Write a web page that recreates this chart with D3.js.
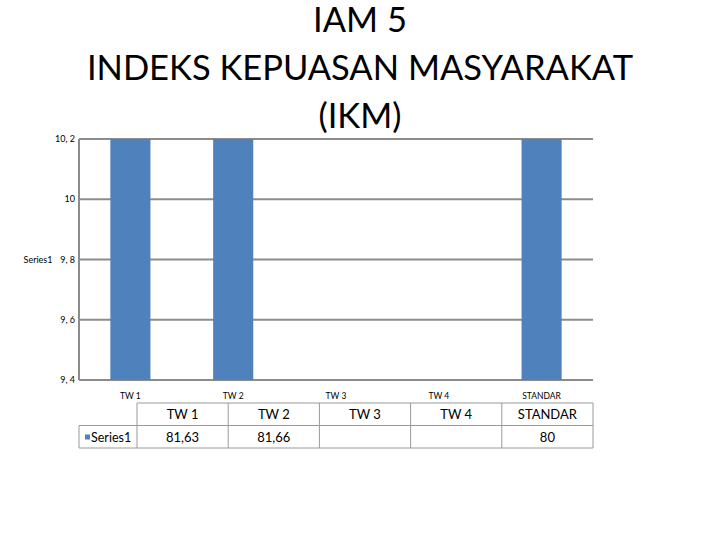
<!DOCTYPE html>
<html>
<head>
<meta charset="utf-8">
<script src="https://cdn.jsdelivr.net/npm/d3@7"></script>
<style>
  body { margin: 0; background: #fff; }
  svg { display: block; }
  text { font-family: Lato, "Open Sans", sans-serif; }
</style>
</head>
<body>
<svg width="720" height="540"></svg>
<script>
// data
let categories = ["TW 1", "TW 2", "TW 3", "TW 4", "STANDAR"];
let values = [81.63, 81.66, null, null, 80];
let valueLabels = ["81,63", "81,66", "", "", "80"];
let yTicks = [9.4, 9.6, 9.8, 10, 10.2];
let titleLines = ["IAM 5", "INDEKS KEPUASAN MASYARAKAT", "(IKM)"];
let seriesName = "Series1";

var svg = d3.select("svg");
var pLeft = 79, pRight = 593, pTop = 139, pBottom = 380;
var fmt = d => String(d).replace(".", ", ");

var x = d3.scaleBand().domain(categories).range([pLeft, pRight]).paddingInner(0.61).paddingOuter(0.305);
var y = d3.scaleLinear().domain([9.4, 10.2]).range([pBottom, pTop]);

// title
svg.append("g").selectAll("text")
  .data(titleLines)
  .enter().append("text")
    .attr("x", 360)
    .attr("y", (d, i) => 32 + i * 48)
    .attr("text-anchor", "middle")
    .attr("font-size", 34.5)
    .attr("fill", "#000")
    .text(d => d);

svg.append("clipPath").attr("id", "plot")
  .append("rect").attr("x", pLeft).attr("y", pTop).attr("width", pRight - pLeft).attr("height", pBottom - pTop);

// gridlines
svg.append("g").selectAll("line")
  .data(yTicks)
  .enter().append("line")
    .attr("x1", pLeft).attr("x2", pRight)
    .attr("y1", d => y(d)).attr("y2", d => y(d))
    .attr("stroke", "#8c8c8c").attr("stroke-width", 2);

// bars (clipped, values are off the scale)
svg.append("g").attr("clip-path", "url(#plot)")
  .selectAll("rect")
  .data(categories.map((c, i) => ({c: c, v: values[i]})).filter(d => d.v != null))
  .enter().append("rect")
    .attr("x", d => x(d.c))
    .attr("width", x.bandwidth())
    .attr("y", d => y(d.v))
    .attr("height", d => pBottom - y(d.v))
    .attr("fill", "#4f81bd");

// axis line
svg.append("line").attr("x1", pLeft).attr("x2", pLeft).attr("y1", pTop).attr("y2", pBottom)
  .attr("stroke", "#8c8c8c").attr("stroke-width", 2);

// y tick labels
svg.append("g").selectAll("text")
  .data(yTicks)
  .enter().append("text")
    .attr("x", pLeft - 4)
    .attr("y", d => y(d) + 3)
    .attr("text-anchor", "end")
    .attr("font-size", 9)
    .text(fmt);

svg.append("text").attr("x", 38).attr("y", y(9.8) + 3)
  .attr("text-anchor", "middle").attr("font-size", 9).text(seriesName);

// category labels
svg.append("g").selectAll("text")
  .data(categories)
  .enter().append("text")
    .attr("x", d => x(d) + x.bandwidth() / 2)
    .attr("y", 399)
    .attr("text-anchor", "middle")
    .attr("font-size", 8.5)
    .text(d => d);

// data table
var tLeft = 79, tFirst = 137, tTop = 403, rowH = 22.5;
var col = d3.scaleBand().domain(categories).range([tFirst, pRight]);
var tg = svg.append("g").attr("stroke", "#9a9a9a").attr("stroke-width", 1).attr("fill", "none");
tg.append("line").attr("x1", tFirst).attr("x2", pRight).attr("y1", tTop).attr("y2", tTop);
tg.append("line").attr("x1", tLeft).attr("x2", pRight).attr("y1", tTop + rowH).attr("y2", tTop + rowH);
tg.append("line").attr("x1", tLeft).attr("x2", pRight).attr("y1", tTop + 2 * rowH).attr("y2", tTop + 2 * rowH);
tg.append("line").attr("x1", tLeft).attr("x2", tLeft).attr("y1", tTop + rowH).attr("y2", tTop + 2 * rowH);
tg.selectAll(".v")
  .data(categories)
  .enter().append("line")
    .attr("x1", d => col(d)).attr("x2", d => col(d))
    .attr("y1", tTop).attr("y2", tTop + 2 * rowH);
tg.append("line").attr("x1", pRight).attr("x2", pRight).attr("y1", tTop).attr("y2", tTop + 2 * rowH);

svg.append("g").selectAll("text")
  .data(categories)
  .enter().append("text")
    .attr("x", d => col(d) + col.bandwidth() / 2)
    .attr("y", tTop + 16)
    .attr("text-anchor", "middle")
    .attr("font-size", 13)
    .text(d => d);

svg.append("g").selectAll("text")
  .data(valueLabels)
  .enter().append("text")
    .attr("x", (d, i) => col(categories[i]) + col.bandwidth() / 2)
    .attr("y", tTop + rowH + 16)
    .attr("text-anchor", "middle")
    .attr("font-size", 13)
    .text(d => d);

svg.append("rect").attr("x", 85).attr("y", tTop + rowH + 9).attr("width", 5).attr("height", 5).attr("fill", "#4f81bd");
svg.append("text").attr("x", 91).attr("y", tTop + rowH + 16).attr("font-size", 12.5).text(seriesName);
</script>
</body>
</html>
